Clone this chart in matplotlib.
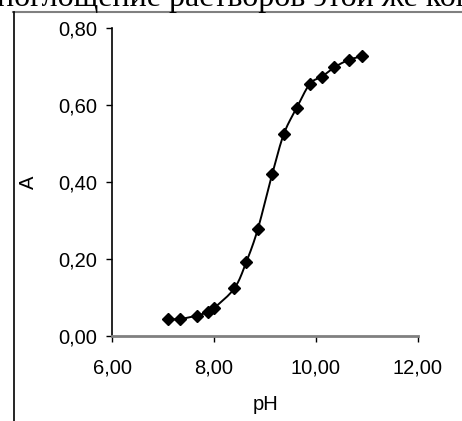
import matplotlib.pyplot as plt
import numpy as np

# data
ph = [7.10, 7.33, 7.66, 7.88, 8.00, 8.40, 8.63, 8.86, 9.14, 9.37, 9.62, 9.88, 10.12, 10.36, 10.64, 10.91]
absorb = [0.044, 0.044, 0.053, 0.062, 0.072, 0.124, 0.191, 0.278, 0.420, 0.525, 0.592, 0.655, 0.674, 0.698, 0.717, 0.727]
xticks = [6, 8, 10, 12]
yticks = [0.0, 0.2, 0.4, 0.6, 0.8]
top_text = "поглощение растворов этой же кон"


def smooth(x, y, n=20):
    # catmull-rom through the points, like the excel smoothed line
    x = np.asarray(x, float)
    y = np.asarray(y, float)
    px = np.concatenate([[2 * x[0] - x[1]], x, [2 * x[-1] - x[-2]]])
    py = np.concatenate([[2 * y[0] - y[1]], y, [2 * y[-1] - y[-2]]])
    outx, outy = [], []
    t = np.linspace(0, 1, n, endpoint=False)
    for i in range(1, len(px) - 2):
        for p, out in ((px, outx), (py, outy)):
            p0, p1, p2, p3 = p[i - 1], p[i], p[i + 1], p[i + 2]
            out.extend(0.5 * (2 * p1 + (-p0 + p2) * t
                              + (2 * p0 - 5 * p1 + 4 * p2 - p3) * t ** 2
                              + (-p0 + 3 * p1 - 3 * p2 + p3) * t ** 3))
    outx.append(x[-1])
    outy.append(y[-1])
    return np.array(outx), np.array(outy)


plt.rcParams['font.family'] = ['Liberation Sans', 'DejaVu Sans']

fig = plt.figure(figsize=(4.62, 4.21), dpi=100)
W, H = 462, 421
ax = fig.add_axes([112 / W, 1 - 336 / H, (418 - 112) / W, (336 - 28) / H])

sx, sy = smooth(ph, absorb)
ax.plot(sx, sy, color='black', lw=1.4, solid_capstyle='round')
ax.plot(ph, absorb, 'D', color='black', markersize=6)

ax.set_xlim(6, 12)
ax.set_ylim(0, 0.8)
ax.set_xticks(xticks)
ax.set_yticks(yticks)
ax.set_xticklabels([f"{v:.2f}".replace('.', ',') for v in xticks])
ax.set_yticklabels([f"{v:.2f}".replace('.', ',') for v in yticks])
ax.tick_params(axis='both', labelsize=14.5, length=4.5, width=1, color='black')
ax.tick_params(axis='x', pad=12)
ax.tick_params(axis='y', pad=6)

for s in ['top', 'right']:
    ax.spines[s].set_visible(False)
ax.spines['left'].set_color('black')
ax.spines['left'].set_linewidth(1.2)
ax.spines['bottom'].set_color('#808080')
ax.spines['bottom'].set_linewidth(2)

fig.text(266 / W, 1 - 404 / H, 'pH', ha='center', va='center', fontsize=14.5)
fig.text(28 / W, 1 - 182 / H, 'A', ha='center', va='center', fontsize=14.5, rotation=90)

# page fragment around the chart, its top cut off by the crop
fig.text(-3 / W, 1 - 6 / H, top_text, ha='left', va='baseline',
         fontsize=23, family='Liberation Serif')
fig.add_artist(plt.Line2D([13 / W, 1], [1 - 12 / H, 1 - 12 / H], color='#808080', lw=1.5))
fig.add_artist(plt.Line2D([14 / W, 14 / W], [0, 1 - 12 / H], color='black', lw=1.2))

fig.savefig('out.png', dpi=100)
